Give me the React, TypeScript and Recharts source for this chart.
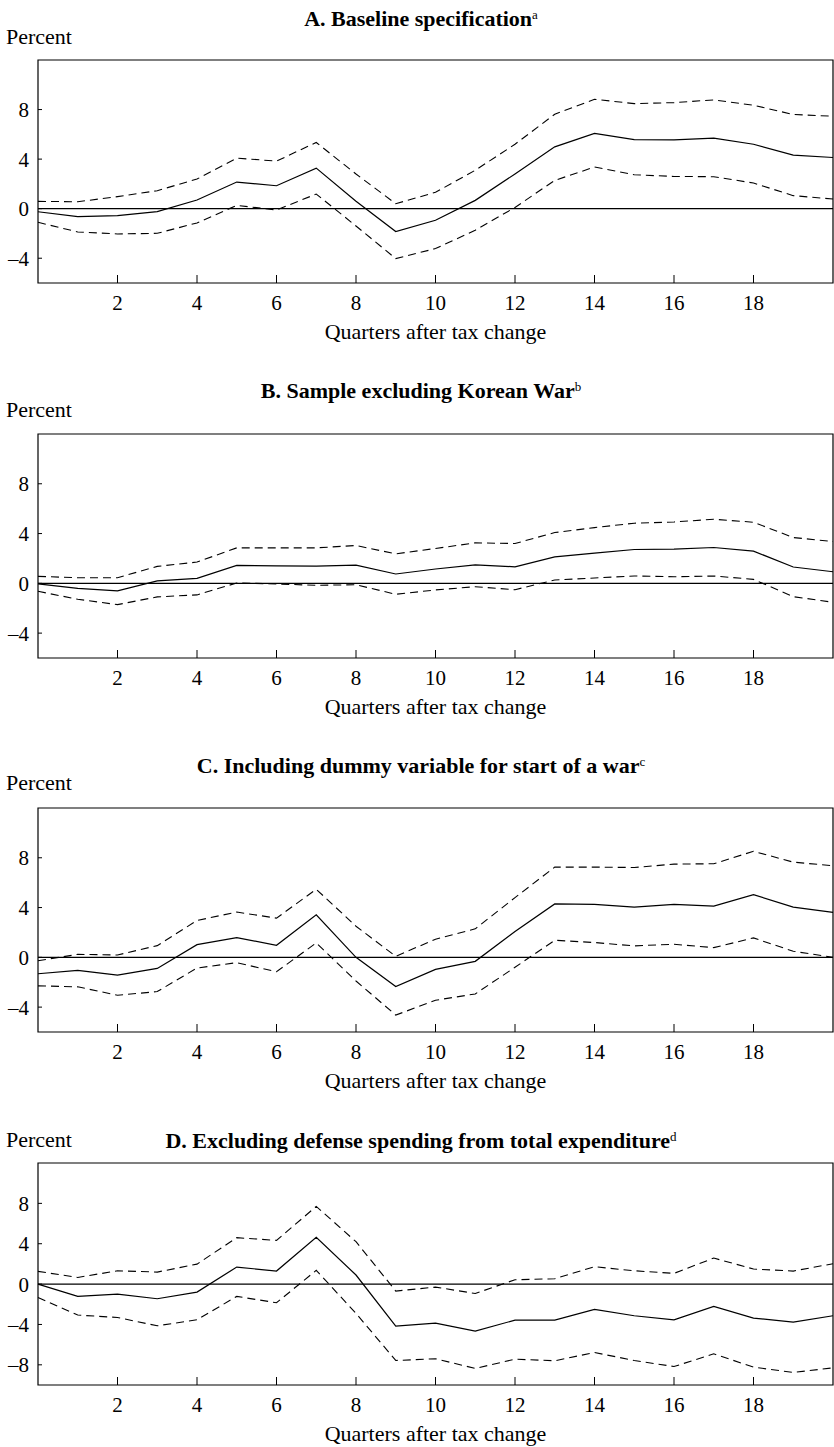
import React from "react"
import { LineChart, Line, XAxis, YAxis, ReferenceLine, ReferenceArea } from "recharts"

const quarters = [0, 1, 2, 3, 4, 5, 6, 7, 8, 9, 10, 11, 12, 13, 14, 15, 16, 17, 18, 19, 20]
const xTicks = [2, 4, 6, 8, 10, 12, 14, 16, 18]

// A. Baseline specification
const aMid = [-0.25, -0.64, -0.56, -0.24, 0.7, 2.15, 1.85, 3.27, 0.6, -1.85, -0.94, 0.67, 2.8, 4.99, 6.07, 5.58, 5.56, 5.69, 5.2, 4.32, 4.13]
const aUpper = [0.59, 0.56, 0.97, 1.45, 2.39, 4.08, 3.84, 5.34, 2.8, 0.4, 1.32, 3.1, 5.2, 7.62, 8.83, 8.48, 8.56, 8.78, 8.35, 7.6, 7.46]
const aLower = [-1.1, -1.88, -2.04, -1.99, -1.15, 0.27, -0.11, 1.18, -1.4, -4.03, -3.22, -1.74, 0.1, 2.28, 3.36, 2.74, 2.6, 2.58, 2.07, 1.05, 0.78]

// B. Sample excluding Korean War
const bMid = [-0.05, -0.4, -0.61, 0.19, 0.4, 1.44, 1.41, 1.39, 1.47, 0.75, 1.15, 1.49, 1.33, 2.13, 2.43, 2.72, 2.75, 2.88, 2.59, 1.31, 0.93]
const bUpper = [0.56, 0.45, 0.45, 1.36, 1.71, 2.85, 2.85, 2.85, 3.04, 2.37, 2.8, 3.25, 3.2, 4.08, 4.48, 4.83, 4.93, 5.15, 4.91, 3.68, 3.36]
const bLower = [-0.64, -1.28, -1.71, -1.09, -0.93, 0.03, -0.05, -0.16, -0.11, -0.88, -0.53, -0.27, -0.51, 0.27, 0.43, 0.59, 0.53, 0.59, 0.32, -1.07, -1.52]

// C. Including dummy variable for start of a war
const cMid = [-1.32, -1.05, -1.43, -0.89, 1.02, 1.59, 0.97, 3.42, 0.0, -2.35, -0.97, -0.32, 2.08, 4.29, 4.26, 4.04, 4.26, 4.12, 5.04, 4.04, 3.61]
const cUpper = [-0.27, 0.24, 0.19, 0.94, 2.96, 3.64, 3.15, 5.47, 2.5, 0.08, 1.46, 2.29, 4.8, 7.25, 7.25, 7.22, 7.49, 7.52, 8.52, 7.65, 7.36]
const cLower = [-2.29, -2.37, -3.05, -2.75, -0.86, -0.43, -1.16, 1.16, -1.9, -4.64, -3.45, -2.94, -0.8, 1.37, 1.19, 0.92, 1.05, 0.78, 1.56, 0.49, 0.0]

// D. Excluding defense spending from total expenditure
const dMid = [0.0, -1.22, -0.99, -1.45, -0.79, 1.69, 1.29, 4.63, 0.9, -4.17, -3.87, -4.66, -3.57, -3.57, -2.51, -3.14, -3.54, -2.21, -3.37, -3.77, -3.14]
const dUpper = [1.26, 0.66, 1.32, 1.19, 1.98, 4.6, 4.33, 7.7, 4.2, -0.69, -0.3, -0.93, 0.43, 0.53, 1.72, 1.32, 1.06, 2.58, 1.49, 1.29, 2.02]
const dLower = [-1.32, -3.07, -3.31, -4.13, -3.54, -1.22, -1.85, 1.36, -2.9, -7.57, -7.4, -8.36, -7.44, -7.6, -6.78, -7.57, -8.17, -6.91, -8.23, -8.76, -8.3]

const font = "'Liberation Serif', 'Times New Roman', serif"

interface PanelProps {
  title: string
  sup: string
  mid: number[]
  upper: number[]
  lower: number[]
  domain: [number, number]
  yTicks: number[]
  plotTop: number
  plotHeight: number
  titleY: number
  percentY: number
}

function Panel({ title, sup, mid, upper, lower, domain, yTicks, plotTop, plotHeight, titleY, percentY }: PanelProps) {
  const data = quarters.map((q, i) => ({ q, mid: mid[i], upper: upper[i], lower: lower[i] }))
  const marginTop = 2
  return (
    <>
      <div
        style={{
          position: "absolute",
          left: 4,
          width: 834,
          top: titleY - 13,
          lineHeight: "26px",
          textAlign: "center",
          fontFamily: font,
          fontWeight: "bold",
          fontSize: 22,
        }}
      >
        {title}
        <span style={{ fontWeight: "normal", fontSize: 13, verticalAlign: "7px" }}>{sup}</span>
      </div>
      <div
        style={{
          position: "absolute",
          left: 6,
          top: percentY - 13,
          lineHeight: "26px",
          fontFamily: font,
          fontSize: 22,
        }}
      >
        Percent
      </div>
      <div style={{ position: "absolute", left: 0, top: plotTop - marginTop }}>
        <LineChart
          width={834}
          height={marginTop + plotHeight + 64}
          data={data}
          margin={{ top: marginTop, right: 1, left: 0, bottom: 0 }}
          style={{ fontFamily: font }}
        >
          <XAxis
            dataKey="q"
            type="number"
            domain={[0, 20]}
            ticks={xTicks}
            interval={0}
            height={64}
            axisLine={false}
            tickSize={-8}
            tickMargin={20}
            tickLine={{ stroke: "#000", strokeWidth: 1 }}
            tick={{ fill: "#000", fontSize: 21 }}
            label={{ value: "Quarters after tax change", position: "insideBottom", offset: 8, fill: "#000", fontSize: 22 }}
          />
          <YAxis
            type="number"
            domain={domain}
            ticks={yTicks}
            interval={0}
            width={38}
            axisLine={false}
            tickSize={-4}
            tickMargin={13}
            tickLine={{ stroke: "#000", strokeWidth: 1 }}
            tick={{ fill: "#000", fontSize: 21 }}
            tickFormatter={(v: number) => (v < 0 ? "\u2013" + Math.abs(v) : String(v))}
          />
          <ReferenceArea x1={0} x2={20} y1={domain[0]} y2={domain[1]} fill="none" stroke="#000" strokeWidth={1.2} />
          <ReferenceLine y={0} stroke="#000" strokeWidth={1.3} />
          <Line type="linear" dataKey="upper" stroke="#000" strokeWidth={1.1} strokeDasharray="8 5" dot={false} isAnimationActive={false} />
          <Line type="linear" dataKey="lower" stroke="#000" strokeWidth={1.1} strokeDasharray="8 5" dot={false} isAnimationActive={false} />
          <Line type="linear" dataKey="mid" stroke="#000" strokeWidth={1.2} dot={false} isAnimationActive={false} />
        </LineChart>
      </div>
    </>
  )
}

export default function App() {
  return (
    <div style={{ position: "absolute", left: 0, top: 0, width: 834, height: 1447, background: "#fff" }}>
      <Panel title="A. Baseline specification" sup="a" mid={aMid} upper={aUpper} lower={aLower}
        domain={[-6, 12]} yTicks={[-4, 0, 4, 8]} plotTop={60} plotHeight={223} titleY={15} percentY={37} />
      <Panel title="B. Sample excluding Korean War" sup="b" mid={bMid} upper={bUpper} lower={bLower}
        domain={[-6, 12]} yTicks={[-4, 0, 4, 8]} plotTop={434} plotHeight={224} titleY={387} percentY={410} />
      <Panel title="C. Including dummy variable for start of a war" sup="c" mid={cMid} upper={cUpper} lower={cLower}
        domain={[-6, 12]} yTicks={[-4, 0, 4, 8]} plotTop={808} plotHeight={224} titleY={762} percentY={783} />
      <Panel title="D. Excluding defense spending from total expenditure" sup="d" mid={dMid} upper={dUpper} lower={dLower}
        domain={[-10, 12]} yTicks={[-8, -4, 0, 4, 8]} plotTop={1163} plotHeight={222} titleY={1137} percentY={1140} />
    </div>
  )
}
